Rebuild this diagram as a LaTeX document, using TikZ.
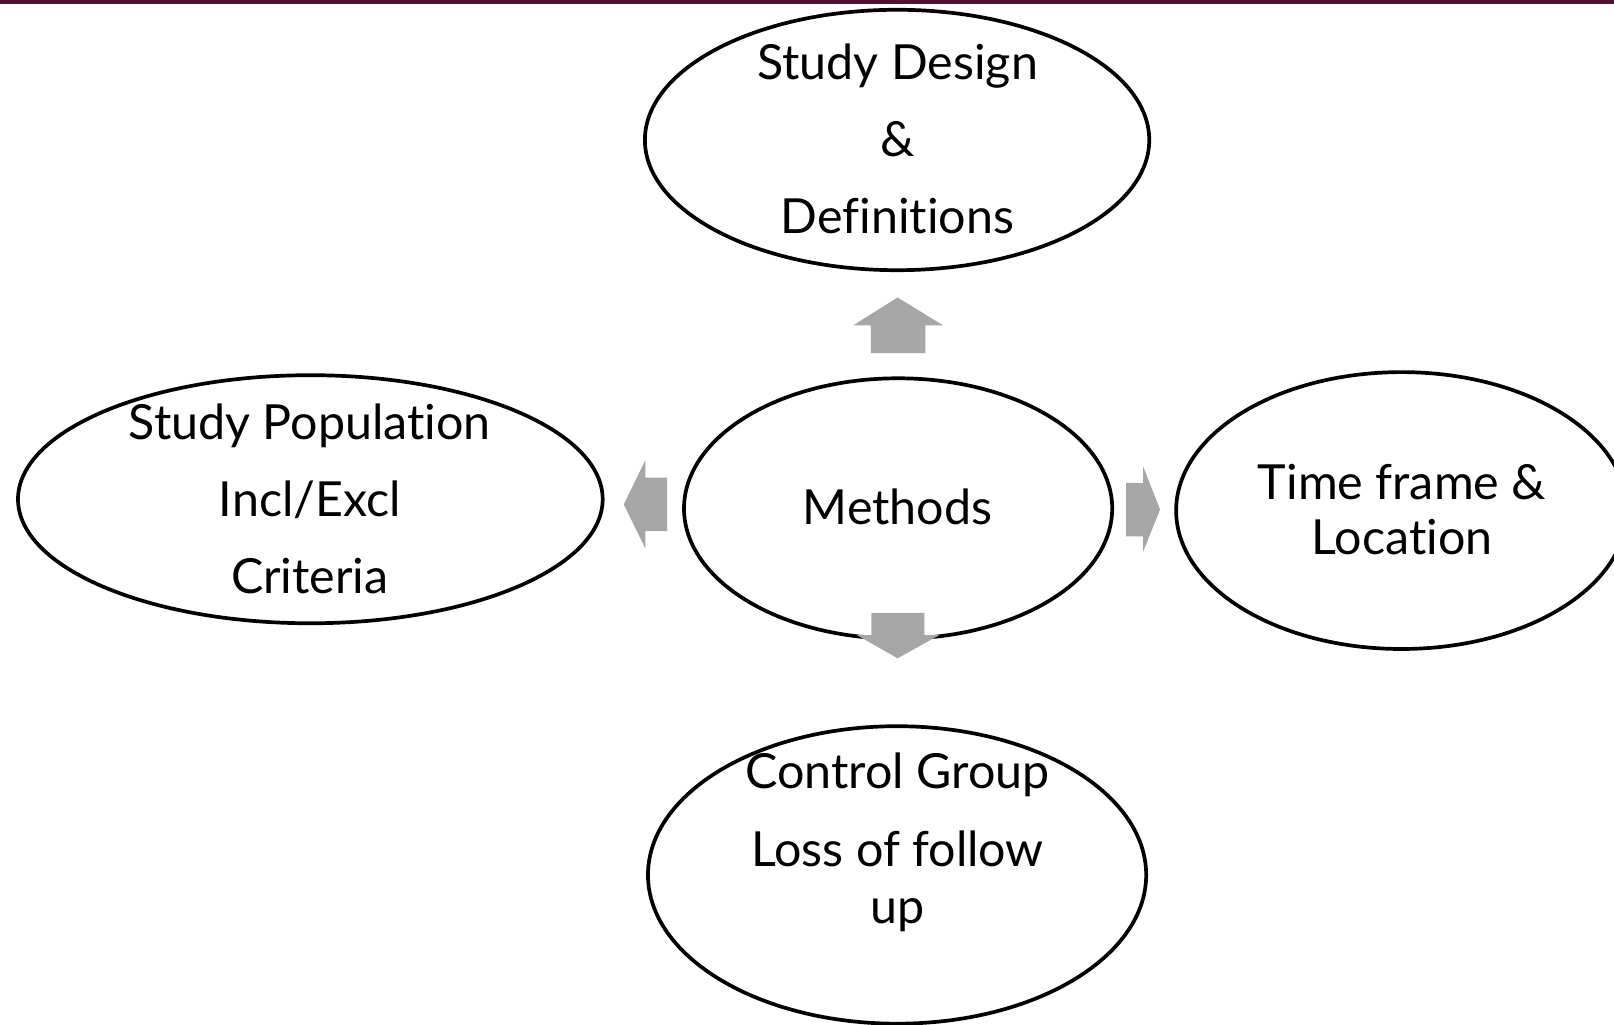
\documentclass[tikz,border=0pt]{standalone}
\usepackage{fontspec}
\setmainfont{Lato}[Ligatures=NoCommon]
\usetikzlibrary{shapes.geometric}
\definecolor{bargray}{HTML}{A6A6A6}
\definecolor{topbar}{HTML}{4F1432}
\begin{document}
\begin{tikzpicture}[x=1pt,y=-1pt,
  bubble/.style={draw=black, line width=3.6pt, ellipse, inner sep=0pt},
  lbl/.style={font=\fontsize{47}{56}\selectfont, inner sep=0pt, anchor=base},
  blk/.style={fill=bargray, draw=none}]
\useasboundingbox (0,0) rectangle (1568,995);
\fill[white] (0,0) rectangle (1568,995);
\fill[topbar] (0,0) rectangle (1568,4);
% ellipses
\node[bubble, minimum width=490pt, minimum height=253pt] (design) at (871.5,136) {};
\node[bubble, minimum width=416pt, minimum height=253pt] (methods) at (872.5,494) {};
\node[bubble, minimum width=568pt, minimum height=241pt] (pop) at (301.5,485) {};
\node[bubble, minimum width=438pt, minimum height=269pt] (time) at (1361.6,496) {};
\node[bubble, minimum width=484pt, minimum height=289pt] (control) at (871.5,850) {};
% arrows
\fill[blk] (846,343) -- (846,316) -- (829,316) -- (872,289) -- (916,316) -- (899,316) -- (899,343) -- cycle;
\fill[blk] (648,464) -- (627,464) -- (627,447) -- (606,490) -- (627,533) -- (627,516) -- (648,516) -- cycle;
\fill[blk] (1094,469) -- (1110.5,469) -- (1110.5,453) -- (1127,495) -- (1110.5,536) -- (1110.5,521) -- (1094,521) -- cycle;
\fill[blk] (846.5,595.5) -- (898,595.5) -- (898,617) -- (912.5,617) -- (872,639.5) -- (832.5,617) -- (846.5,617) -- cycle;
% labels
\node[lbl] (d1) at (872,77) {Study Design};
\node[lbl] (d2) at (872,152) {\&};
\node[lbl] (d3) at (872,227) {Definitions};
\node[lbl] (m1) at (872,510) {Methods};
\node[lbl] (p1) at (301,427) {Study Population};
\node[lbl] (p2) at (301,502) {Incl/Excl};
\node[lbl] (p3) at (301,577) {Criteria};
\node[lbl] (t1) at (1362,485) {Time frame \&};
\node[lbl] (t2) at (1362,539) {Location};
\node[lbl] (c1) at (872,766) {Control Group};
\node[lbl] (c2) at (872,842) {Loss of follow};
\node[lbl] (c3) at (872,897) {up};
\end{tikzpicture}
\end{document}
